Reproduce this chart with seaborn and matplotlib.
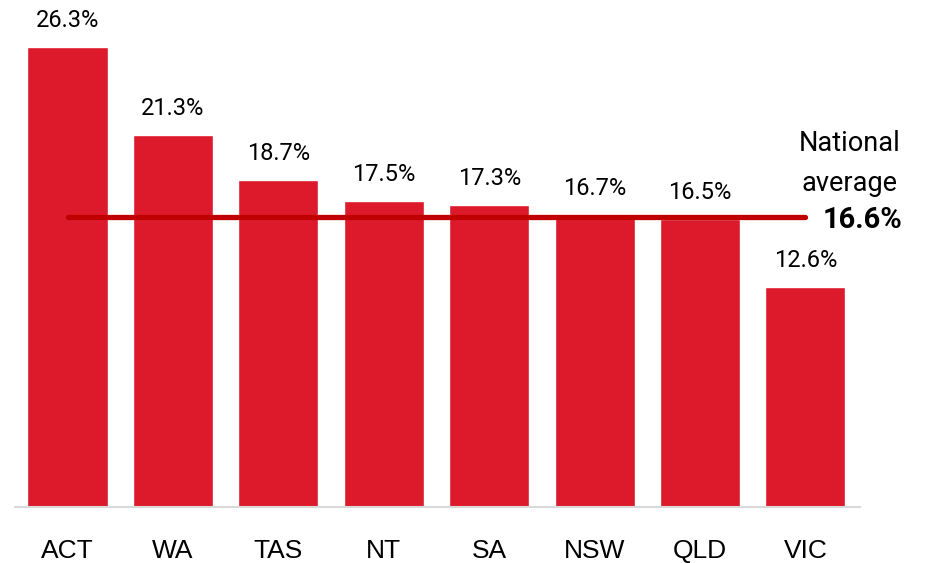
import matplotlib
matplotlib.use("Agg")
import matplotlib.pyplot as plt
import seaborn as sns
import pandas as pd

# state values
states = ["ACT", "WA", "TAS", "NT", "SA", "NSW", "QLD", "VIC"]
rates = [26.3, 21.3, 18.7, 17.5, 17.3, 16.7, 16.5, 12.6]
national_avg = 16.6

BAR_RED = "#DC1A2B"
LINE_RED = "#C00000"

sns.set_theme(style="white")
plt.rcParams['font.family'] = ['Liberation Sans', 'DejaVu Sans']
LABEL_FONT = ["Roboto", "DejaVu Sans"]

df = pd.DataFrame({"state": states, "rate": rates})

fig = plt.figure(figsize=(9.28, 5.63), dpi=100)
ax = fig.add_axes([0.016, 0.0995, 0.911, 0.9005])

sns.barplot(data=df, x="state", y="rate", color=BAR_RED, saturation=1,
            width=0.76, ax=ax)

for i, v in enumerate(rates):
    ax.text(i, v + 0.85, "{:.1f}%".format(v), ha="center", va="bottom",
            fontsize=17, color="black", family=LABEL_FONT)

ax.hlines(national_avg, 0, len(states) - 1, color=LINE_RED, lw=3.8,
          capstyle="round", zorder=3)
ax.text(7.42, 20.8, "National", ha="center", va="center", fontsize=19.5,
        color="black", family=LABEL_FONT)
ax.text(7.42, 18.5, "average", ha="center", va="center", fontsize=19.5,
        color="black", family=LABEL_FONT)
ax.text(7.54, 16.4, "{:.1f}%".format(national_avg), ha="center",
        va="center", fontsize=21, fontweight="bold", color="black",
        family=LABEL_FONT)

ax.set_xlim(-0.5, 7.52)
ax.set_ylim(0, 29)
ax.set_xlabel("")
ax.set_ylabel("")
ax.set_yticks([])
ax.tick_params(axis="x", length=0, pad=23, labelsize=19, labelcolor="black")
for s in ["top", "right", "left"]:
    ax.spines[s].set_visible(False)
ax.spines["bottom"].set_color("#D9D9D9")
ax.spines["bottom"].set_linewidth(1.5)

fig.savefig("out.png", dpi=100)
